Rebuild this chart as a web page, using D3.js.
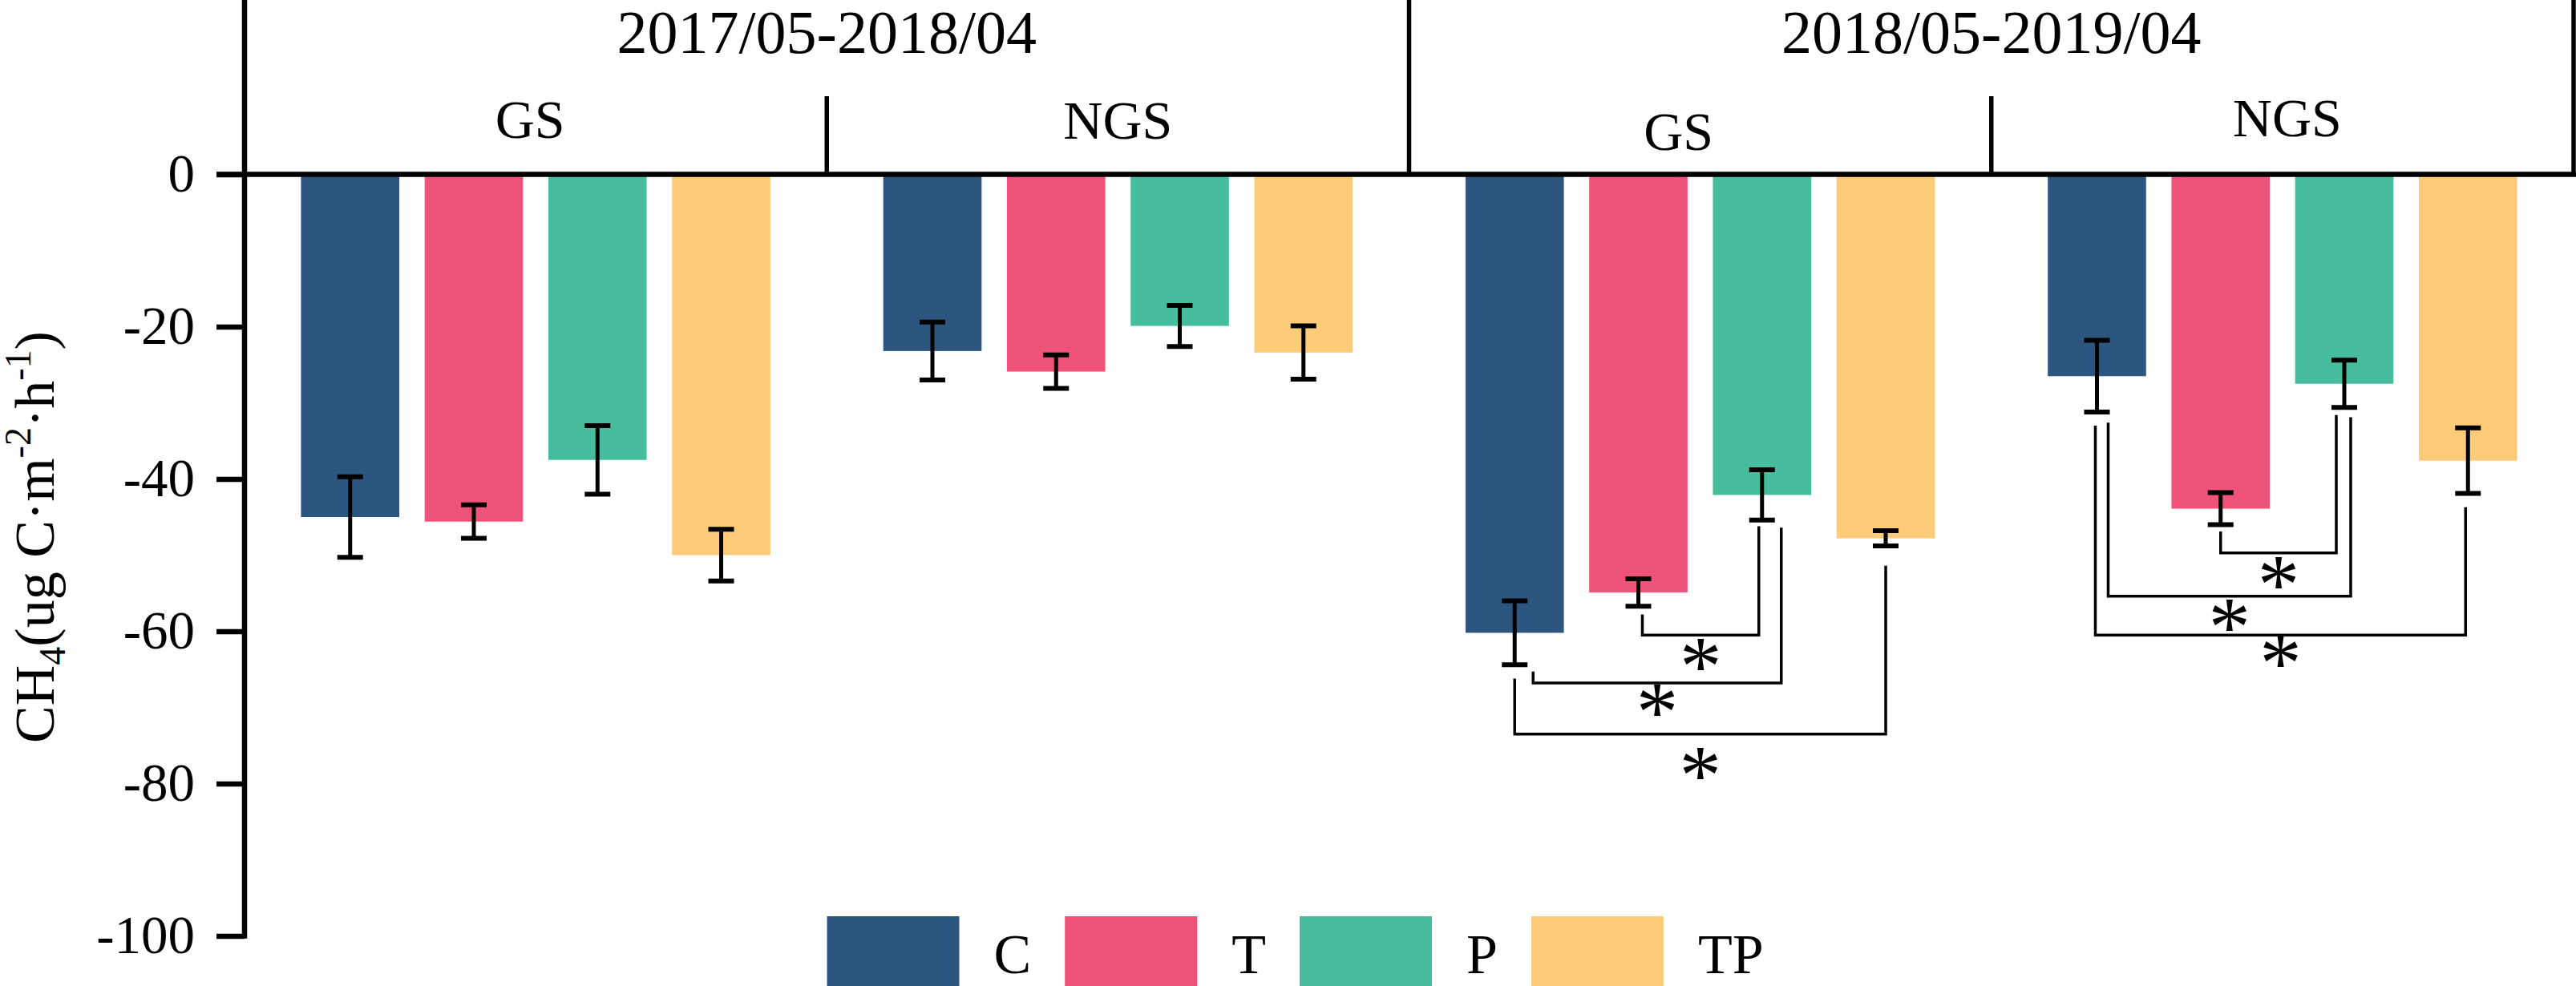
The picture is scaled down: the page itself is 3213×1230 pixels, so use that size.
<!DOCTYPE html>
<html>
<head>
<meta charset="utf-8">
<script src="https://cdn.jsdelivr.net/npm/d3@7"></script>
<style>
body { margin: 0; background: #fff; }
svg { display: block; }
text { font-family: "Liberation Serif", "Times New Roman", serif; fill: #000; }
</style>
</head>
<body>
<script>
// ---- data ----
const periods = ["2017/05-2018/04", "2018/05-2019/04"];
const seasons = ["GS", "NGS"];
const treatments = ["C", "T", "P", "TP"];
const colors = ["#2c5680", "#f05379", "#46bd9c", "#fecc78"];

// CH4 flux means, one row per period/season: GS 17-18, NGS 17-18, GS 18-19, NGS 18-19
const means = [
  [-45.0, -45.6, -37.5, -50.0],
  [-23.2, -25.9, -19.9, -23.4],
  [-60.2, -54.9, -42.1, -47.8],
  [-26.5, -43.9, -27.5, -37.6]
];
const errors = [
  [5.3, 2.2, 4.5, 3.4],
  [3.8, 2.2, 2.7, 3.5],
  [4.2, 1.8, 3.3, 1.0],
  [4.7, 2.1, 3.1, 4.3]
];
const yTicks = [0, -20, -40, -60, -80, -100];

// significance brackets, all heights in flux units
const sig = [
  {p: 1, s: "GS",  a: "T", b: "P",  aEnd: -57.8, bEnd: -46.2, level: -60.5, star: -63.1},
  {p: 1, s: "GS",  a: "C", b: "P",  aEnd: -65.3, bEnd: -46.4, level: -66.8, star: -69.1},
  {p: 1, s: "GS",  a: "C", b: "TP", aEnd: -66.2, bEnd: -51.4, level: -73.5, star: -77.4},
  {p: 1, s: "NGS", a: "T", b: "P",  aEnd: -46.9, bEnd: -31.6, level: -49.7, star: -52.4},
  {p: 1, s: "NGS", a: "C", b: "P",  aEnd: -32.6, bEnd: -31.9, level: -55.4, star: -57.9},
  {p: 1, s: "NGS", a: "C", b: "TP", aEnd: -33.0, bEnd: -43.7, level: -60.5, star: -62.7}
];
// small horizontal shifts of bracket legs off bar centres (px)
const legNudge = [[5, -4], [23, 24], [0, 0], [0, -10], [14, 8], [-2, -3]];
// season label shifts [dx, baseline]
const seasonLabelPos = [[-7, 172], [0, 173], [-27, 187], [6, 170]];

// ---- layout ----
const W = 3213, H = 1230;
const left = 305, right = 3210;

const y = d3.scaleLinear().domain([0, -100]).range([217.5, 1167.5]);
const xPeriod = d3.scaleBand().domain(periods).range([left, right]);
const xSeason = d3.scaleBand().domain(seasons).range([0, xPeriod.bandwidth()]);
const xTreat = d3.scaleBand().domain(treatments).range([0, xSeason.bandwidth()])
    .paddingInner(0.205).paddingOuter(0.4565);
const color = d3.scaleOrdinal().domain(treatments).range(colors);

const rows = [];
periods.forEach((p, i) => seasons.forEach((s, j) => {
  const k = i * seasons.length + j;
  treatments.forEach((t, m) => rows.push({p, s, t, v: means[k][m], e: errors[k][m]}));
}));

const cx = (p, s, t) => xPeriod(p) + xSeason(s) + xTreat(t) + xTreat.bandwidth() / 2;

const svg = d3.select("body").append("svg")
    .attr("width", W)
    .attr("height", H);

// bars
svg.append("g").selectAll("rect")
  .data(rows)
  .join("rect")
    .attr("x", d => xPeriod(d.p) + xSeason(d.s) + xTreat(d.t))
    .attr("y", y(0))
    .attr("width", xTreat.bandwidth())
    .attr("height", d => y(d.v) - y(0))
    .attr("fill", d => color(d.t));

// error bars
const eb = svg.append("g").attr("stroke", "#000").selectAll("g")
  .data(rows)
  .join("g");
eb.append("line")
    .attr("x1", d => cx(d.p, d.s, d.t)).attr("x2", d => cx(d.p, d.s, d.t))
    .attr("y1", d => y(d.v + d.e)).attr("y2", d => y(d.v - d.e))
    .attr("stroke-width", 5);
eb.selectAll(".cap")
  .data(d => [d.v + d.e, d.v - d.e].map(v => ({x: cx(d.p, d.s, d.t), v})))
  .join("line")
    .attr("class", "cap")
    .attr("x1", d => d.x - 16).attr("x2", d => d.x + 16)
    .attr("y1", d => y(d.v)).attr("y2", d => y(d.v))
    .attr("stroke-width", 6);

// significance brackets
const br = svg.append("g").selectAll("g")
  .data(sig)
  .join("g");
br.append("path")
    .attr("fill", "none")
    .attr("stroke", "#000")
    .attr("stroke-width", 3.5)
    .attr("d", (d, i) => {
      const p = periods[d.p];
      const xa = cx(p, d.s, d.a) + legNudge[i][0];
      const xb = cx(p, d.s, d.b) + legNudge[i][1];
      return `M${xa},${y(d.aEnd)}V${y(d.level)}H${xb}V${y(d.bEnd)}`;
    });
br.append("text")
    .attr("text-anchor", "middle")
    .attr("font-size", 105)
    .attr("x", (d, i) => {
      const p = periods[d.p];
      return (cx(p, d.s, d.a) + legNudge[i][0] + cx(p, d.s, d.b) + legNudge[i][1]) / 2;
    })
    .attr("y", d => y(d.star) + 50)
    .text("*");

// frame of the header
const frame = svg.append("g").attr("stroke", "#000");
frame.append("line")
    .attr("x1", left - 35).attr("x2", right + 3)
    .attr("y1", y(0)).attr("y2", y(0))
    .attr("stroke-width", 6.5);
frame.append("line")
    .attr("x1", right).attr("x2", right)
    .attr("y1", 0).attr("y2", y(0))
    .attr("stroke-width", 5.5);
frame.append("line")
    .attr("x1", xPeriod(periods[1])).attr("x2", xPeriod(periods[1]))
    .attr("y1", 0).attr("y2", y(0))
    .attr("stroke-width", 5.5);
frame.selectAll(".sdiv")
  .data(periods)
  .join("line")
    .attr("class", "sdiv")
    .attr("x1", p => xPeriod(p) + xSeason("NGS")).attr("x2", p => xPeriod(p) + xSeason("NGS"))
    .attr("y1", 120).attr("y2", y(0))
    .attr("stroke-width", 5.5);

// header labels
svg.append("g").selectAll("text")
  .data(periods)
  .join("text")
    .attr("x", p => xPeriod(p) + xPeriod.bandwidth() / 2)
    .attr("y", 66)
    .attr("text-anchor", "middle")
    .attr("font-size", 76)
    .text(p => p);

const seasonCells = periods.flatMap(p => seasons.map(s => ({p, s})));
svg.append("g").selectAll("text")
  .data(seasonCells)
  .join("text")
    .attr("x", (d, i) => xPeriod(d.p) + xSeason(d.s) + xSeason.bandwidth() / 2 + seasonLabelPos[i][0])
    .attr("y", (d, i) => seasonLabelPos[i][1])
    .attr("text-anchor", "middle")
    .attr("font-size", 68)
    .text(d => d.s);

// y axis
const yAxis = svg.append("g")
    .attr("transform", `translate(${left},0)`)
    .call(d3.axisLeft(y).tickValues(yTicks).tickSize(35).tickPadding(27)
      .tickSizeOuter(0).tickFormat(d => String(d)));
yAxis.select(".domain").remove();
yAxis.selectAll(".tick line").attr("stroke", "#000").attr("stroke-width", 6.5);
yAxis.selectAll(".tick text")
    .attr("font-family", "Liberation Serif, Times New Roman, serif")
    .attr("font-size", 67)
    .attr("fill", "#000");
yAxis.append("line")
    .attr("stroke", "#000")
    .attr("stroke-width", 6.5)
    .attr("x1", 0).attr("x2", 0)
    .attr("y1", 0).attr("y2", y(-100) + 3.25);

// y title
const title = svg.append("text")
    .attr("transform", `translate(67,670) rotate(-90)`)
    .attr("text-anchor", "middle")
    .attr("font-size", 70);
title.append("tspan").text("CH");
title.append("tspan").attr("font-size", 46).attr("dy", 14).text("4");
title.append("tspan").attr("dy", -14).text("(ug C·m");
title.append("tspan").attr("font-size", 46).attr("dy", -29).text("-2");
title.append("tspan").attr("dy", 29).text("·h");
title.append("tspan").attr("font-size", 46).attr("dy", -29).text("-1");
title.append("tspan").attr("dy", 29).text(")");

// legend
const legend = svg.append("g");
let lx = 1031.5;
treatments.forEach(t => {
  legend.append("rect")
      .attr("x", lx).attr("y", 1143)
      .attr("width", 165).attr("height", 165)
      .attr("fill", color(t));
  const label = legend.append("text")
      .attr("x", lx + 165 + 43).attr("y", 1214)
      .attr("font-size", 70)
      .text(t);
  lx += 165 + 43 + label.node().getComputedTextLength() + 42;
});
</script>
</body>
</html>
